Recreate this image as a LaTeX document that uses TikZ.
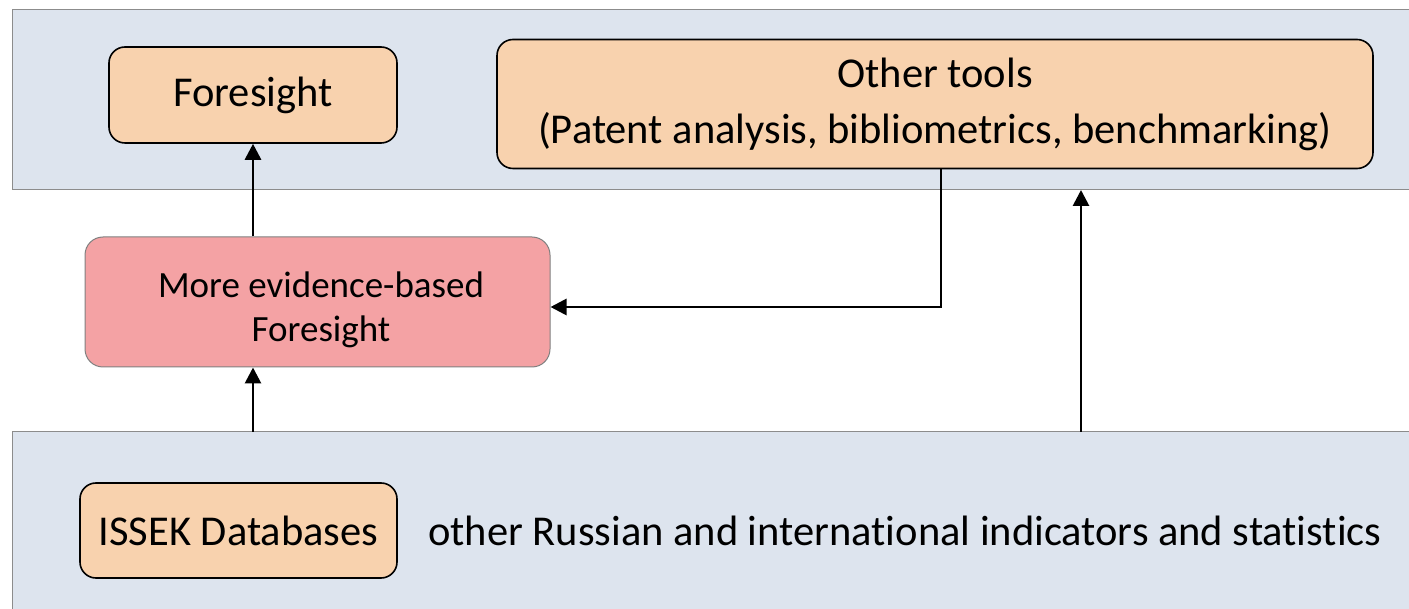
\documentclass[tikz,border=0pt]{standalone}
\usepackage{fontspec}
\setmainfont{Carlito}[RawFeature=-liga]
\usetikzlibrary{arrows.meta}
\definecolor{band}{HTML}{DDE4EE}
\definecolor{bandline}{HTML}{8C8C8C}
\definecolor{peach}{HTML}{F8D2AE}
\definecolor{redfill}{HTML}{F4A2A4}
\tikzset{
  bandbox/.style={draw=bandline, line width=1pt, fill=band},
  toolbox/.style={draw=black, line width=1.6pt, fill=peach, rounded corners=16pt, inner sep=0pt, align=center},
  redbox/.style={draw=gray, line width=1pt, fill=redfill, rounded corners=18pt, inner sep=0pt},
  conn/.style={line width=2.8pt, -{Triangle[length=16pt,width=16pt]}},
  big/.style={font=\fontsize{42.5}{56}\selectfont},
  mid/.style={font=\fontsize{37}{44}\selectfont, align=center, inner sep=0pt}
}
\begin{document}
\begin{tikzpicture}[x=1pt,y=-1pt]
\useasboundingbox (0,0) rectangle (1409,609);
\fill[white] (0,0) rectangle (1409,609);
% bands
\path[bandbox] (12,10) rectangle (1420,190);
\path[bandbox] (12,432) rectangle (1420,620);
\coordinate (topband) at (1081,190);
\coordinate (botband) at (1081,432);
\coordinate (botband2) at (253,432);
% nodes
\node[toolbox, big, minimum width=288pt, minimum height=96pt] (fs) at (253,95) {Foresight};
\node[toolbox, big, minimum width=876pt, minimum height=129pt] (ot) at (935,104) {Other tools\\ (Patent analysis, bibliometrics, benchmarking)};
\node[redbox, minimum width=465pt, minimum height=130pt] (ebf) at (317.5,302) {};
\node[mid] (ebftext) at (321,310) {More evidence-based\\Foresight};
\node[toolbox, big, minimum width=317pt, minimum height=95pt] (db) at (238.5,530.5) {ISSEK Databases};
\node[big, anchor=west, inner sep=0pt] (stat) at (428,530.5) {other Russian and international indicators and statistics};
% connectors
\draw[conn] (ebf.north -| fs.south) -- (fs.south);
\draw[conn] (botband2) -- (botband2 |- ebf.south);
\draw[conn] (ot.south -| 941,0) |- (ebf.east |- 0,307);
\draw[conn] (botband) -- (topband);
\end{tikzpicture}
\end{document}
